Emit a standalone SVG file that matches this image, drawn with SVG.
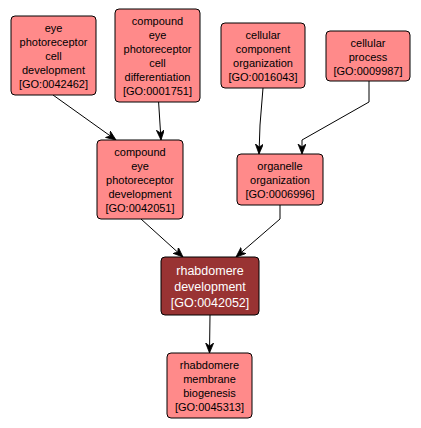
<svg xmlns="http://www.w3.org/2000/svg" width="421" height="428" viewBox="0 0 421 428">
<defs>
<marker id="arr" markerUnits="userSpaceOnUse" markerWidth="12" markerHeight="10" refX="10" refY="4" orient="auto">
<path d="M0,0 L10,4 L0,8 L3,4 Z" fill="#000" stroke="#000" stroke-width="0.8"/>
</marker>
</defs>
<style>
.n rect{fill:#ff8a8a;stroke:#000;stroke-width:1}
.d rect{fill:#993333;stroke:#000;stroke-width:1}
text{font-family:"Liberation Sans",Arial,sans-serif;font-size:11px;text-anchor:middle;fill:#000}
.d text{fill:#fff;font-size:12.5px}
.e path{fill:none;stroke:#000;stroke-width:1;marker-end:url(#arr)}
</style>
<rect width="421" height="428" fill="#fff"/>
<g class="e" id="edges">
<path d="M53,95 L116,140"/>
<path d="M158.6,102 L161,140"/>
<path d="M263,88 L260,125 L259,154"/>
<path d="M369,81 L369,102 L302,140 L302,154"/>
<path d="M141,219 L183,257"/>
<path d="M280,205 L280,219 L236,257"/>
<path d="M210,315 L209.5,353"/>
</g>
<g class="n" id="GO0042462">
<rect x="11" y="16" width="85" height="79" rx="4"/>
<text x="53.5" y="31.5">eye</text>
<text x="53.5" y="45.5">photoreceptor</text>
<text x="53.5" y="59.5">cell</text>
<text x="53.5" y="73.5">development</text>
<text x="53.5" y="87.5">[GO:0042462]</text>
</g>
<g class="n" id="GO0001751">
<rect x="115" y="9" width="85" height="93" rx="4"/>
<text x="157.5" y="24.5">compound</text>
<text x="157.5" y="38.5">eye</text>
<text x="157.5" y="52.5">photoreceptor</text>
<text x="157.5" y="66.5">cell</text>
<text x="157.5" y="80.5">differentiation</text>
<text x="157.5" y="94.5">[GO:0001751]</text>
</g>
<g class="n" id="GO0016043">
<rect x="221" y="23" width="84" height="65" rx="4"/>
<text x="263" y="38.5">cellular</text>
<text x="263" y="52.5">component</text>
<text x="263" y="66.5">organization</text>
<text x="263" y="80.5">[GO:0016043]</text>
</g>
<g class="n" id="GO0009987">
<rect x="326" y="31" width="84" height="50" rx="4"/>
<text x="368" y="46.5">cellular</text>
<text x="368" y="60.5">process</text>
<text x="368" y="74.5">[GO:0009987]</text>
</g>
<g class="n" id="GO0042051">
<rect x="97" y="140" width="86" height="79" rx="4"/>
<text x="140" y="155.5">compound</text>
<text x="140" y="169.5">eye</text>
<text x="140" y="183.5">photoreceptor</text>
<text x="140" y="197.5">development</text>
<text x="140" y="211.5">[GO:0042051]</text>
</g>
<g class="n" id="GO0006996">
<rect x="237" y="154" width="86" height="51" rx="4"/>
<text x="280" y="169.5">organelle</text>
<text x="280" y="183.5">organization</text>
<text x="280" y="197.5">[GO:0006996]</text>
</g>
<g class="d" id="GO0042052">
<rect x="161" y="257" width="98" height="58" rx="4"/>
<text x="210" y="274.5">rhabdomere</text>
<text x="210" y="290.5">development</text>
<text x="210" y="306.5">[GO:0042052]</text>
</g>
<g class="n" id="GO0045313">
<rect x="167" y="353" width="85" height="65" rx="4"/>
<text x="209.5" y="368.5">rhabdomere</text>
<text x="209.5" y="382.5">membrane</text>
<text x="209.5" y="396.5">biogenesis</text>
<text x="209.5" y="410.5">[GO:0045313]</text>
</g>
</svg>
